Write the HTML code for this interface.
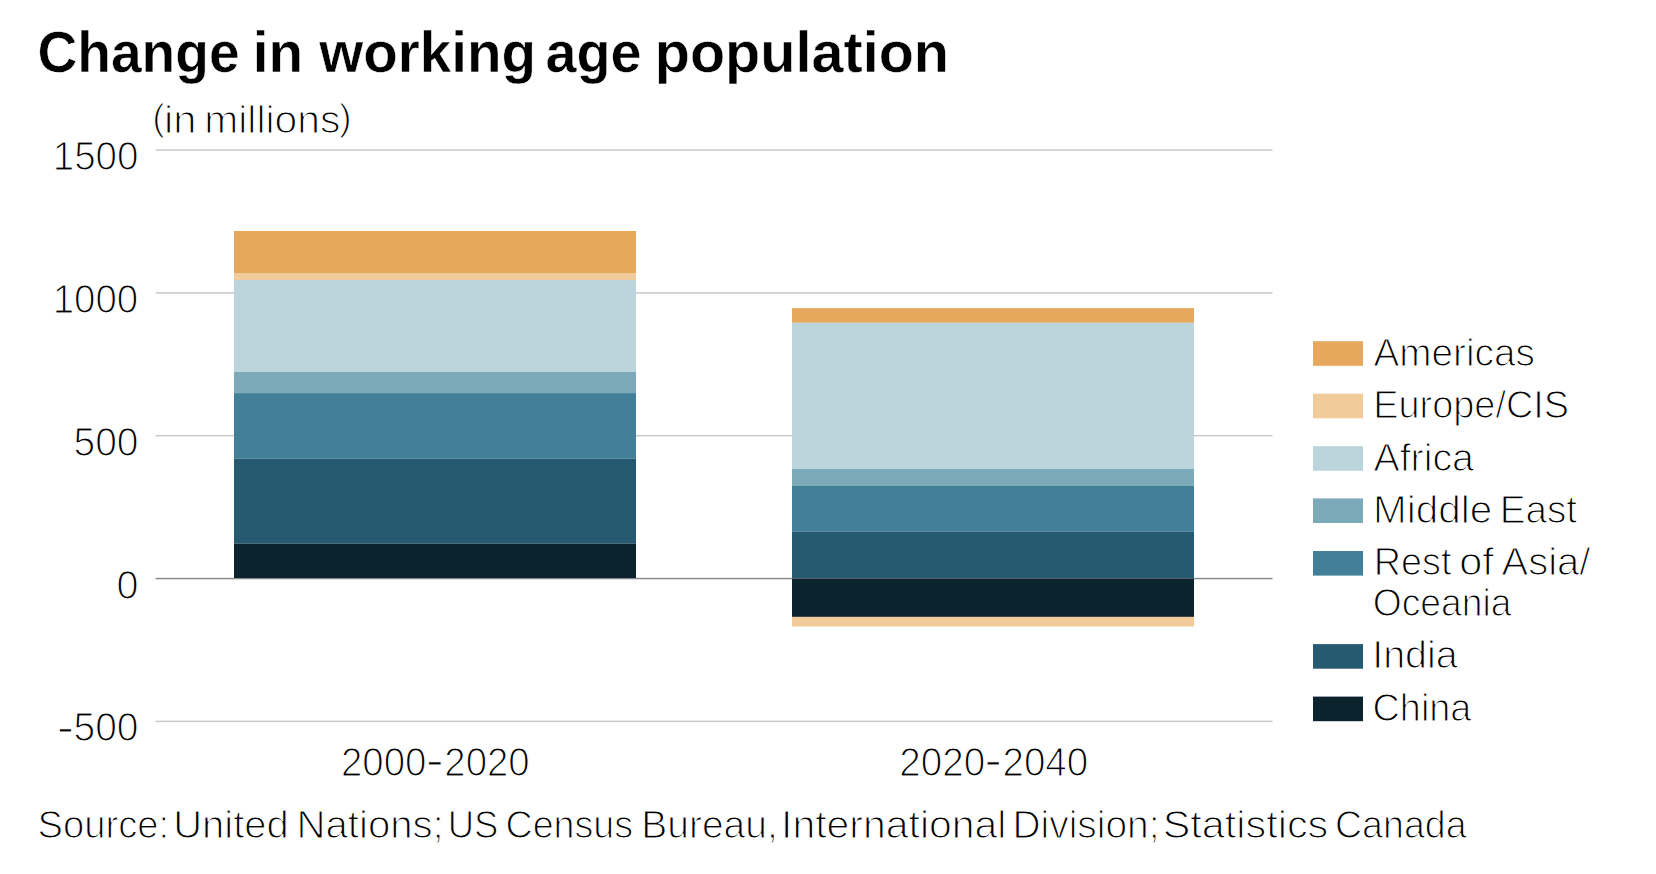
<!DOCTYPE html>
<html lang="en"><head><meta charset="utf-8"><title>Change in working age population</title>
<style>html,body{margin:0;padding:0;background:#fff}body{width:1656px;height:874px;overflow:hidden}svg{display:block}text{font-family:"Liberation Sans", Arial, Helvetica, sans-serif;fill:#000}.t{font-weight:700;font-size:58px;stroke:#fff;stroke-width:0.5px}.l,.d{font-size:39.2px;stroke:#fff;stroke-width:1.2px}.d{font-size:40px}</style></head><body>
<svg width="1656" height="874" viewBox="0 0 1656 874">
<rect width="1656" height="874" fill="#fff"/>
<rect x="155.6" y="149.25" width="1116.9" height="1.5" fill="#c7c9cc"/>
<rect x="155.6" y="292.15" width="1116.9" height="1.5" fill="#c7c9cc"/>
<rect x="155.6" y="434.95" width="1116.9" height="1.5" fill="#c7c9cc"/>
<rect x="155.6" y="720.65" width="1116.9" height="1.5" fill="#c7c9cc"/>
<rect x="155.6" y="577.8" width="1116.9" height="1.5" fill="#898b8f"/>
<rect x="234" y="231" width="402" height="42" fill="#E6A85C"/>
<rect x="234" y="273" width="402" height="7" fill="#F1CB9A"/>
<rect x="234" y="280" width="402" height="92" fill="#BCD5DC"/>
<rect x="234" y="372" width="402" height="21.1" fill="#7DAAB9"/>
<rect x="234" y="393.1" width="402" height="65.6" fill="#42809A"/>
<rect x="234" y="458.7" width="402" height="84.9" fill="#265A70"/>
<rect x="234" y="543.6" width="402" height="34.4" fill="#0B232D"/>
<rect x="792" y="308.1" width="402" height="14.7" fill="#E6A85C"/>
<rect x="792" y="322.8" width="402" height="146.2" fill="#BCD5DC"/>
<rect x="792" y="469" width="402" height="17" fill="#7DAAB9"/>
<rect x="792" y="486" width="402" height="45.7" fill="#42809A"/>
<rect x="792" y="531.7" width="402" height="46.3" fill="#265A70"/>
<rect x="792" y="578.6" width="402" height="38.3" fill="#0B232D"/>
<rect x="792" y="616.9" width="402" height="9.6" fill="#F1CB9A"/>
<rect x="1313" y="341.2" width="50" height="24.6" fill="#E6A85C"/>
<rect x="1313" y="393.7" width="50" height="24.6" fill="#F1CB9A"/>
<rect x="1313" y="446.2" width="50" height="24.6" fill="#BCD5DC"/>
<rect x="1313" y="498.4" width="50" height="24.6" fill="#7DAAB9"/>
<rect x="1313" y="551" width="50" height="24.6" fill="#42809A"/>
<rect x="1313" y="644.1" width="50" height="24.6" fill="#265A70"/>
<rect x="1313" y="696.6" width="50" height="24.6" fill="#0B232D"/>
<text class="t"><tspan id="t1" x="37.50" y="71.50" textLength="202.11" lengthAdjust="spacingAndGlyphs">Change</tspan> <tspan id="t2" x="252.75" y="71.50" textLength="50.44" lengthAdjust="spacingAndGlyphs">in</tspan> <tspan id="t3" x="319.25" y="71.50" textLength="216.69" lengthAdjust="spacingAndGlyphs">working</tspan> <tspan id="t4" x="545.50" y="71.50" textLength="96.17" lengthAdjust="spacingAndGlyphs">age</tspan> <tspan id="t5" x="654.75" y="71.50" textLength="294.23" lengthAdjust="spacingAndGlyphs">population</tspan></text>
<text class="l"><tspan id="u1" style="font-size:37.8px" x="152.25" y="129.65" textLength="12.49" lengthAdjust="spacingAndGlyphs">(</tspan><tspan id="u2" x="164.00" y="132.65" textLength="32.42" lengthAdjust="spacingAndGlyphs">in</tspan> <tspan id="u3" x="204.25" y="132.65" textLength="136.06" lengthAdjust="spacingAndGlyphs">millions</tspan><tspan id="u4" style="font-size:37.8px" x="339.00" y="129.65" textLength="12.69" lengthAdjust="spacingAndGlyphs">)</tspan></text>
<text id="y1" class="d" x="52.75" y="170.00" textLength="85.73" lengthAdjust="spacingAndGlyphs">1500</text>
<text id="y2" class="d" x="52.75" y="312.90" textLength="85.48" lengthAdjust="spacingAndGlyphs">1000</text>
<text id="y3" class="d" x="73.50" y="455.70" textLength="65.00" lengthAdjust="spacingAndGlyphs">500</text>
<text id="y4" class="d" x="116.50" y="598.60" textLength="22.00" lengthAdjust="spacingAndGlyphs">0</text>
<text class="d"><tspan id="y5a" style="stroke-width:1px" x="56.75" y="740.90" textLength="17.33" lengthAdjust="spacingAndGlyphs">-</tspan><tspan id="y5b" x="73.50" y="741.40" textLength="65.00" lengthAdjust="spacingAndGlyphs">500</tspan></text>
<text class="d"><tspan id="x1a" x="341.00" y="776.00" textLength="85.38" lengthAdjust="spacingAndGlyphs">2000</tspan><tspan id="x1b" style="stroke-width:1px" x="425.75" y="774.40" textLength="17.93" lengthAdjust="spacingAndGlyphs">-</tspan><tspan id="x1c" x="444.30" y="776.00" textLength="85.33" lengthAdjust="spacingAndGlyphs">2020</tspan></text>
<text class="d"><tspan id="x2a" x="899.30" y="776.00" textLength="85.93" lengthAdjust="spacingAndGlyphs">2020</tspan><tspan id="x2b" style="stroke-width:1px" x="984.50" y="774.40" textLength="17.33" lengthAdjust="spacingAndGlyphs">-</tspan><tspan id="x2c" x="1002.50" y="776.00" textLength="85.73" lengthAdjust="spacingAndGlyphs">2040</tspan></text>
<text id="l1" class="l" x="1373.50" y="365.85" textLength="161.33" lengthAdjust="spacingAndGlyphs">Americas</text>
<text id="l2" class="l" x="1373.25" y="417.85" textLength="195.83" lengthAdjust="spacingAndGlyphs">Europe/CIS</text>
<text id="l3" class="l" x="1373.50" y="470.55" textLength="100.42" lengthAdjust="spacingAndGlyphs">Africa</text>
<text class="l"><tspan id="l4a" x="1373.00" y="522.75" textLength="119.15" lengthAdjust="spacingAndGlyphs">Middle</tspan> <tspan id="l4b" x="1499.75" y="522.75" textLength="77.32" lengthAdjust="spacingAndGlyphs">East</tspan></text>
<text class="l"><tspan id="l5a" x="1373.75" y="574.95" textLength="77.63" lengthAdjust="spacingAndGlyphs">Rest</tspan> <tspan id="l5b" x="1459.25" y="574.95" textLength="34.59" lengthAdjust="spacingAndGlyphs">of</tspan> <tspan id="l5c" x="1501.50" y="574.95" textLength="88.88" lengthAdjust="spacingAndGlyphs">Asia/</tspan></text>
<text id="l6" class="l" x="1372.75" y="615.55" textLength="138.72" lengthAdjust="spacingAndGlyphs">Oceania</text>
<text id="l7" class="l" x="1372.25" y="668.15" textLength="85.48" lengthAdjust="spacingAndGlyphs">India</text>
<text id="l8" class="l" x="1372.50" y="720.55" textLength="98.89" lengthAdjust="spacingAndGlyphs">China</text>
<text class="l"><tspan id="s1" x="37.50" y="838.05" textLength="131.56" lengthAdjust="spacingAndGlyphs">Source:</tspan> <tspan id="s2" x="173.25" y="838.05" textLength="115.53" lengthAdjust="spacingAndGlyphs">United</tspan> <tspan id="s3" x="296.50" y="838.05" textLength="147.27" lengthAdjust="spacingAndGlyphs">Nations;</tspan> <tspan id="s4" x="447.75" y="838.05" textLength="50.70" lengthAdjust="spacingAndGlyphs">US</tspan> <tspan id="s5" x="505.50" y="838.05" textLength="127.62" lengthAdjust="spacingAndGlyphs">Census</tspan> <tspan id="s6" x="641.25" y="838.05" textLength="136.52" lengthAdjust="spacingAndGlyphs">Bureau,</tspan> <tspan id="s7" x="781.00" y="838.05" textLength="225.44" lengthAdjust="spacingAndGlyphs">International</tspan> <tspan id="s8" x="1012.50" y="838.05" textLength="147.09" lengthAdjust="spacingAndGlyphs">Division;</tspan> <tspan id="s9" x="1162.75" y="838.05" textLength="165.55" lengthAdjust="spacingAndGlyphs">Statistics</tspan> <tspan id="s10" x="1335.00" y="838.05" textLength="131.53" lengthAdjust="spacingAndGlyphs">Canada</tspan></text>
</svg></body></html>
